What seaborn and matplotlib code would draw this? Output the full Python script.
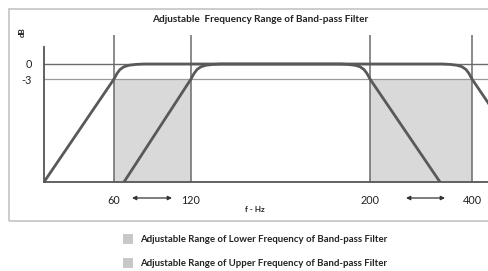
import pandas as pd
import matplotlib.pyplot as plt
import seaborn as sns
from matplotlib.patches import Rectangle

# schematic positions along the frequency axis (not to scale)
freq_labels = ["60", "120", "200", "400"]
freq_pos = [70, 147, 326, 428]

# response of the two band-pass filters (dB, schematic)
band1_x = [0, 70, 73, 76, 80, 85, 92, 100, 296, 304, 311, 316, 320, 323, 326, 396]
band1_y = [-23.6, -3, -1.9, -1.1, -0.55, -0.25, -0.08, 0, 0, -0.08, -0.25, -0.55, -1.1, -1.9, -3, -23.6]
band2_x = [80, 147, 150, 153, 157, 162, 169, 177, 398, 406, 413, 418, 422, 425, 428, 470]
band2_y = [-23.6, -3, -1.9, -1.1, -0.55, -0.25, -0.08, 0, 0, -0.08, -0.25, -0.55, -1.1, -1.9, -3, -15.4]

# shaded adjustable ranges
lower_range = [60, 120]
upper_range = [200, 400]

y_min, y_max = -23.6, 5.8
line_col = "#595959"

sns.set_style("white")
plt.rcParams["font.family"] = ["Lato", "DejaVu Sans"]

fig = plt.figure(figsize=(4.89, 2.71), dpi=100)
ax = fig.add_axes([44 / 489, 1 - 182 / 271, 445 / 489, 147 / 271])

pos = dict(zip(freq_labels, freq_pos))
for lo, hi in [lower_range, upper_range]:
    x0, x1 = pos[str(lo)], pos[str(hi)]
    ax.fill_between([x0, x1], y_min, -3, color="#d9d9d9", lw=0)

for p in freq_pos:
    ax.axvline(p, color="#6b6b6b", lw=1.1)

ax.axhline(0, color="#6b6b6b", lw=1.0)
ax.axhline(-3, color="#9a9a9a", lw=0.9)

df = pd.concat([
    pd.DataFrame({"x": band1_x, "y": band1_y, "band": "a"}),
    pd.DataFrame({"x": band2_x, "y": band2_y, "band": "b"}),
])
sns.lineplot(data=df, x="x", y="y", units="band", estimator=None, sort=False,
             color=line_col, lw=2.0, ax=ax, legend=False)

ax.set_xlim(0, 445)
ax.set_ylim(y_min, y_max)
for s in ["top", "right"]:
    ax.spines[s].set_visible(False)
ax.spines["left"].set_bounds(y_min, 3.4)
ax.spines["left"].set_color("#555555")
ax.spines["bottom"].set_color("#555555")
ax.spines["left"].set_linewidth(1.3)
ax.spines["bottom"].set_linewidth(1.3)

ax.set_xticks(freq_pos, freq_labels)
ax.set_yticks([0, -3], ["0", "-3"])
ax.tick_params(axis="x", length=0, pad=9, labelsize=7.8, labelcolor="#222222")
ax.tick_params(axis="y", length=0, pad=9, labelsize=7.8, labelcolor="#222222")
ax.set_xlabel("")
ax.set_ylabel("")

# double arrows between the adjustable limits
for a, b in [(88, 128), (362, 401)]:
    ax.annotate("", xy=(b, -26.8), xytext=(a, -26.8), annotation_clip=False,
                arrowprops=dict(arrowstyle="<|-|>", color="#333333", lw=0.9,
                                mutation_scale=6, shrinkA=0, shrinkB=0))

fig.text(255 / 489, 1 - 209 / 271, "f - Hz", fontsize=5.8, fontweight="bold",
         ha="center", va="center", color="#222222")
fig.text(22 / 489, 1 - 32 / 271, "dB", fontsize=5.8, fontweight="bold",
         rotation=90, ha="center", va="center", color="#222222")
fig.text(260 / 489, 1 - 20 / 271, "Adjustable  Frequency Range of Band-pass Filter",
         fontsize=7.2, fontweight="bold", ha="center", va="center", color="#222222")

# frame around the chart
fig.patches.append(Rectangle((9 / 489, 1 - 221 / 271), 500 / 489, 212 / 271,
                             transform=fig.transFigure, fill=False,
                             edgecolor="#c4c4c4", lw=1.2))

# legend
legend_labels = ["Adjustable Range of Lower Frequency of Band-pass Filter",
                 "Adjustable Range of Upper Frequency of Band-pass Filter"]
for i, lab in enumerate(legend_labels):
    yc = 239 + 24 * i
    fig.patches.append(Rectangle((123 / 489, 1 - (yc + 5) / 271), 10 / 489, 10 / 271,
                                 transform=fig.transFigure, color="#c8c8c8", lw=0))
    fig.text(140 / 489, 1 - yc / 271, lab, fontsize=6.9, fontweight="bold",
             ha="left", va="center", color="#222222")

fig.savefig("out.png", dpi=100)
